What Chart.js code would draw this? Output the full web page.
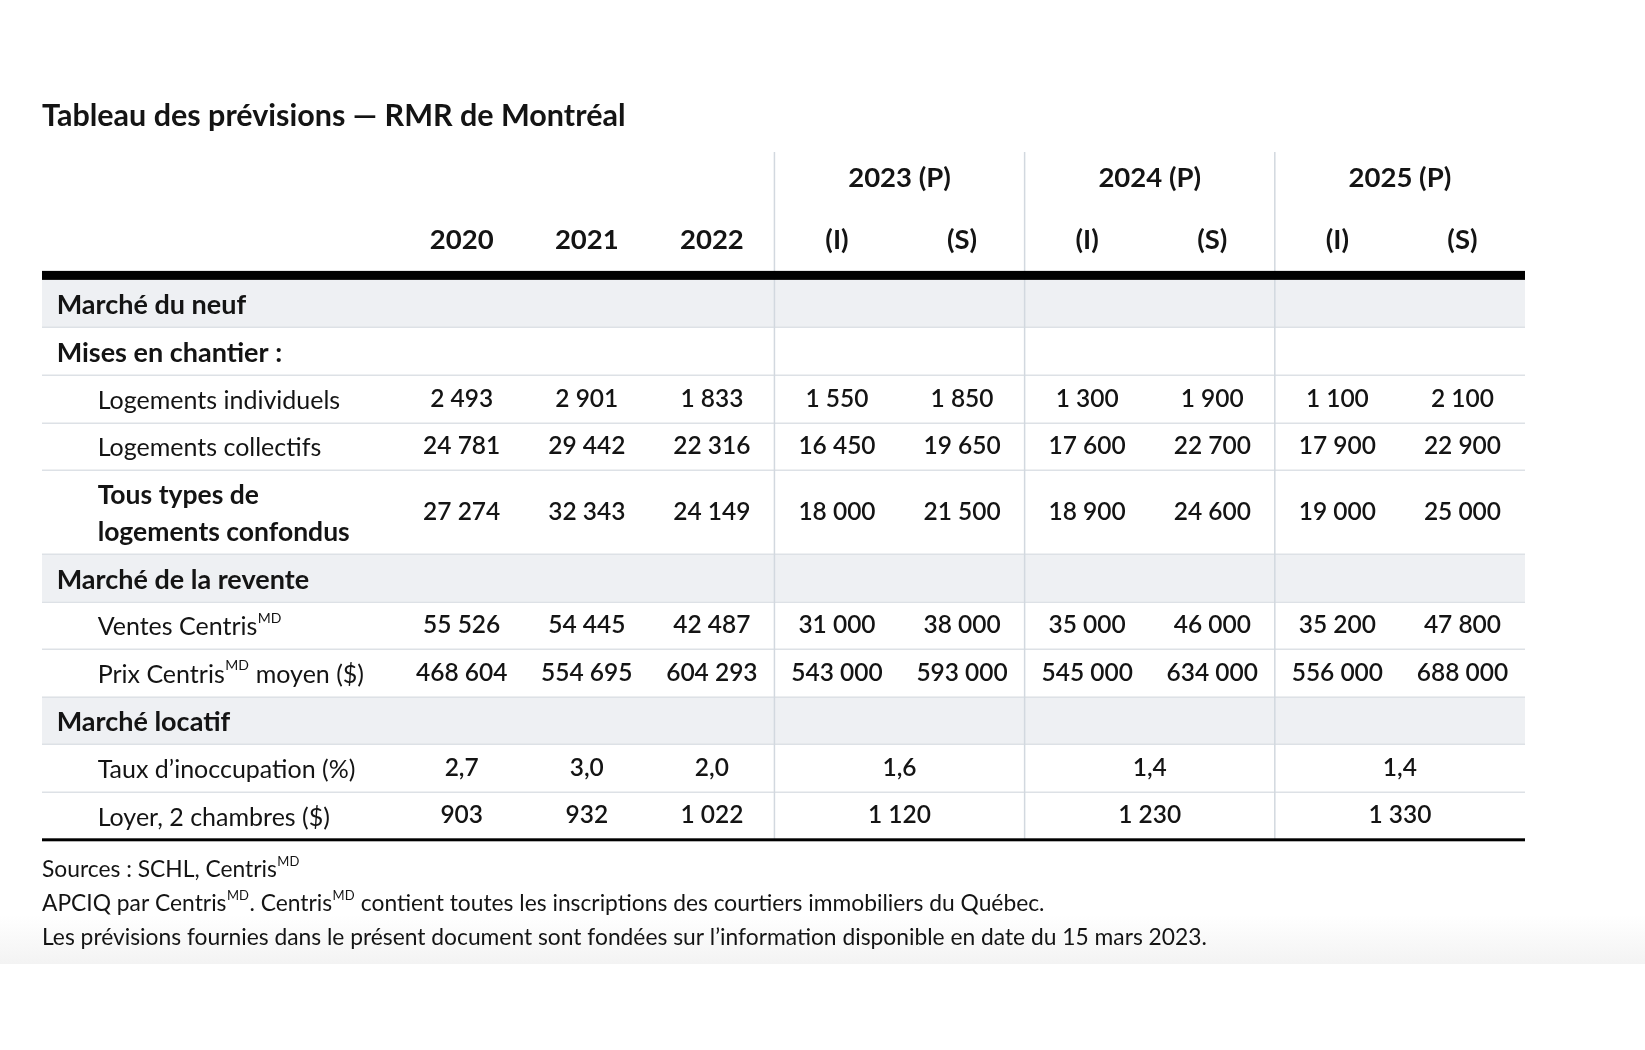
<!DOCTYPE html>
<html><head><meta charset="utf-8">
<script src="https://cdn.jsdelivr.net/npm/chart.js@4.4.0/dist/chart.umd.min.js"></script>
<style>html,body{margin:0;padding:0;background:#fff;}canvas{display:block}</style>
</head><body>
<canvas id="c" width="1645" height="1050"></canvas>
<script>
// ---------- DATA ----------
const chartTitle = 'Tableau des prévisions — RMR de Montréal';
const histYears = ['2020', '2021', '2022'];
const forecastYears = ['2023 (P)', '2024 (P)', '2025 (P)'];
const scenarios = ['(I)', '(S)'];
const rowLabels = [
  'Marché du neuf',
  'Mises en chantier :',
  'Logements individuels',
  'Logements collectifs',
  'Tous types de\nlogements confondus',
  'Marché de la revente',
  'Ventes Centris{MD}',
  'Prix Centris{MD} moyen ($)',
  'Marché locatif',
  'Taux d’inoccupation (%)',
  'Loyer, 2 chambres ($)'
];
const rowKinds = ['section', 'head', 'item', 'item', 'itemBold', 'section', 'item', 'item', 'section', 'item', 'item'];
const logementsIndividuels = [2493, 2901, 1833, 1550, 1850, 1300, 1900, 1100, 2100];
const logementsCollectifs = [24781, 29442, 22316, 16450, 19650, 17600, 22700, 17900, 22900];
const tousTypes = [27274, 32343, 24149, 18000, 21500, 18900, 24600, 19000, 25000];
const ventesCentris = [55526, 54445, 42487, 31000, 38000, 35000, 46000, 35200, 47800];
const prixCentris = [468604, 554695, 604293, 543000, 593000, 545000, 634000, 556000, 688000];
const tauxInoccupation = [2.7, 3.0, 2.0, 1.6, 1.4, 1.4];   // 2020-2022, then one value per forecast year
const loyer2Chambres = [903, 932, 1022, 1120, 1230, 1330];  // 2020-2022, then one value per forecast year
const footnotes = [
  'Sources : SCHL, Centris{MD}',
  'APCIQ par Centris{MD}. Centris{MD} contient toutes les inscriptions des courtiers immobiliers du Québec.',
  'Les prévisions fournies dans le présent document sont fondées sur l’information disponible en date du 15 mars 2023.'
];

// ---------- LAYOUT (scale units) ----------
const LABEL_UNITS = 2.855;       // width of label column in column units
const HEADER_UNITS = 2.69;       // header height in row units
const TALL_ROW = 1.767;          // height of the two-line row
const rowHeights = rowKinds.map(k => k === 'itemBold' ? TALL_ROW : 1);
const rowTops = [];
let acc = 0;
rowHeights.forEach(h => { rowTops.push(acc); acc += h; });
const ROWS_TOTAL = acc;
const rowCenter = i => rowTops[i] + rowHeights[i] / 2;

const FONT = 'Lato, "Noto Sans", sans-serif';
const INK = '#141414';
const TEXT_DY = 2;

function fmtInt(v) { return String(v).replace(/\B(?=(\d{3})+(?!\d))/g, ' '); }
function fmtDec(v) { return v.toFixed(1).replace('.', ','); }

// datasets: every text cell is a point placed through the chart scales
const datasets = [];
// header line 1 : forecast years centred over their two columns
datasets.push({ role: 'head', texts: forecastYears,
  data: forecastYears.map((t, i) => ({ x: 4 + 2 * i, y: -2.19 })) });
// header line 2 : historical years + scenarios
const head2 = histYears.concat(forecastYears.flatMap(() => scenarios));
datasets.push({ role: 'head', texts: head2,
  data: head2.map((t, i) => ({ x: i + 0.5, y: -0.87 })) });
// row labels
rowLabels.forEach((lab, r) => {
  const kind = rowKinds[r];
  const indent = (kind === 'section' || kind === 'head') ? 0.117 : 0.445;
  datasets.push({ role: 'label', kind, texts: [lab],
    data: [{ x: -LABEL_UNITS + indent, y: rowCenter(r) }] });
});
// numeric rows with one value per column
const fullRows = [[2, logementsIndividuels], [3, logementsCollectifs], [4, tousTypes], [6, ventesCentris], [7, prixCentris]];
fullRows.forEach(([r, vals]) => {
  datasets.push({ role: 'value', texts: vals.map(fmtInt),
    data: vals.map((v, i) => ({ x: i + 0.5, y: rowCenter(r) })) });
});
// rental rows: forecast values span both scenario columns
const mergedRows = [[9, tauxInoccupation, fmtDec], [10, loyer2Chambres, fmtInt]];
mergedRows.forEach(([r, vals, f]) => {
  datasets.push({ role: 'value', texts: vals.map(f),
    data: vals.map((v, i) => ({ x: i < 3 ? i + 0.5 : 3 + 2 * (i - 3) + 1, y: rowCenter(r) })) });
});

// draw text with {MD} superscripts
function drawRich(ctx, text, x, y, size, weight, align) {
  const parts = text.split('{MD}');
  const mainFont = `${weight} ${size}px ${FONT}`;
  const supFont = `${weight} ${Math.round(size * 0.55)}px ${FONT}`;
  let total = 0;
  const widths = parts.map((p, i) => {
    ctx.font = mainFont; const w = ctx.measureText(p).width;
    let s = 0;
    if (i < parts.length - 1) { ctx.font = supFont; s = ctx.measureText('MD').width + 1; }
    total += w + s; return [w, s];
  });
  let cx = align === 'center' ? x - total / 2 : x;
  ctx.textAlign = 'left';
  parts.forEach((p, i) => {
    ctx.font = mainFont; ctx.textBaseline = 'middle';
    ctx.fillText(p, cx, y); cx += widths[i][0];
    if (i < parts.length - 1) {
      ctx.font = supFont;
      ctx.fillText('MD', cx + 0.5, y - size * 0.36); cx += widths[i][1];
    }
  });
}

const tablePlugin = {
  id: 'tablePlugin',
  beforeDraw(chart) {
    const ctx = chart.ctx;
    ctx.save();
    ctx.fillStyle = '#ffffff'; ctx.fillRect(0, 0, chart.width, chart.height);
    const g = ctx.createLinearGradient(0, 915, 0, 964);
    g.addColorStop(0, 'rgba(243,243,243,0)'); g.addColorStop(1, 'rgba(243,243,243,1)');
    ctx.fillStyle = g; ctx.fillRect(0, 915, chart.width, 49);
    ctx.restore();
  },
  beforeDatasetsDraw(chart) {
    const { ctx, scales: { x, y } } = chart;
    const L = x.getPixelForValue(-LABEL_UNITS), R = x.getPixelForValue(9);
    ctx.save();
    // shaded section rows
    rowKinds.forEach((k, r) => {
      if (k !== 'section') return;
      const t = y.getPixelForValue(rowTops[r]), b = y.getPixelForValue(rowTops[r] + rowHeights[r]);
      ctx.fillStyle = '#eef0f3'; ctx.fillRect(L, t, R - L, b - t);
    });
    // row separators
    ctx.strokeStyle = '#dde1e6'; ctx.lineWidth = 1.5;
    rowTops.slice(1).forEach(v => {
      const py = Math.round(y.getPixelForValue(v)) + 0.25;
      ctx.beginPath(); ctx.moveTo(L, py); ctx.lineTo(R, py); ctx.stroke();
    });
    // vertical group separators
    ctx.strokeStyle = '#d2d8df'; ctx.lineWidth = 1.5;
    [3, 5, 7].forEach(v => {
      const px = x.getPixelForValue(v);
      ctx.beginPath(); ctx.moveTo(px, y.getPixelForValue(-HEADER_UNITS)); ctx.lineTo(px, y.getPixelForValue(ROWS_TOTAL)); ctx.stroke();
    });
    // thick header rule
    const top0 = y.getPixelForValue(0);
    ctx.fillStyle = '#000'; ctx.fillRect(L, top0 - 9, R - L, 9);
    // bottom rule
    const bot = y.getPixelForValue(ROWS_TOTAL);
    ctx.fillRect(L, bot - 1, R - L, 3);
    ctx.restore();
  },
  afterDatasetsDraw(chart) {
    const ctx = chart.ctx;
    ctx.save();
    ctx.fillStyle = INK;
    chart.data.datasets.forEach((ds, di) => {
      const meta = chart.getDatasetMeta(di);
      meta.data.forEach((el, j) => {
        const t = ds.texts[j];
        if (ds.role === 'head') {
          drawRich(ctx, t, el.x, el.y + TEXT_DY, 27.5, 700, 'center');
        } else if (ds.role === 'value') {
          drawRich(ctx, t, el.x, el.y, 24.5, 600, 'center');
        } else {
          const kind = ds.kind;
          const size = kind === 'item' ? 25 : (kind === 'itemBold' ? 26.5 : 27);
          const weight = kind === 'item' ? 400 : 700;
          const lines = t.split('\n');
          const lh = 37;
          lines.forEach((ln, k) => {
            drawRich(ctx, ln, el.x, el.y + TEXT_DY + (k - (lines.length - 1) / 2) * lh, size, weight, 'left');
          });
        }
      });
    });
    ctx.restore();
  },
  afterDraw(chart) {
    const { ctx, chartArea } = chart;
    ctx.save();
    ctx.fillStyle = INK;
    drawRich(ctx, chartTitle, chartArea.left, 116, 30.5, 700, 'left');
    footnotes.forEach((f, i) => drawRich(ctx, f, chartArea.left, 870 + i * 34, 22.8, 400, 'left'));
    ctx.restore();
  }
};

new Chart(document.getElementById('c'), {
  type: 'scatter',
  data: { datasets },
  options: {
    responsive: false,
    animation: false,
    events: [],
    layout: { padding: { left: 42, right: 120, top: 152, bottom: 210.7 } },
    elements: { point: { radius: 0, hoverRadius: 0 } },
    scales: {
      x: { type: 'linear', display: false, min: -LABEL_UNITS, max: 9 },
      y: { type: 'linear', display: false, reverse: true, min: -HEADER_UNITS, max: ROWS_TOTAL }
    },
    plugins: { legend: { display: false }, tooltip: { enabled: false } }
  },
  plugins: [tablePlugin]
});
</script>
</body></html>
